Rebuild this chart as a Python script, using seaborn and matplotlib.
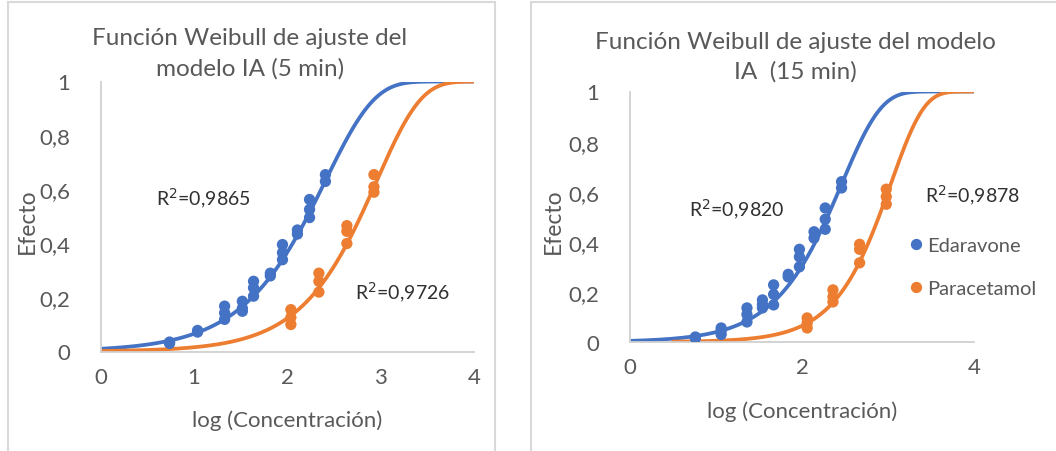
import numpy as np
import pandas as pd
import matplotlib
matplotlib.use("Agg")
import matplotlib.pyplot as plt
from matplotlib.patches import Rectangle
import seaborn as sns

# ---- values ----
# 5 min panel
eda_5_x = [0.74, 0.74, 1.04, 1.04, 1.33, 1.33, 1.33, 1.52, 1.52, 1.52, 1.64, 1.64, 1.64,
           1.82, 1.82, 1.95, 1.95, 1.95, 2.11, 2.11, 2.24, 2.24, 2.24, 2.41, 2.41]
eda_5_y = [0.030, 0.035, 0.072, 0.078, 0.168, 0.143, 0.119, 0.186, 0.160, 0.149, 0.260, 0.236, 0.205,
           0.280, 0.290, 0.396, 0.366, 0.340, 0.450, 0.435, 0.563, 0.526, 0.496, 0.655, 0.630]
par_5_x = [2.04, 2.04, 2.04, 2.34, 2.34, 2.34, 2.64, 2.64, 2.64, 2.93, 2.93, 2.93]
par_5_y = [0.155, 0.126, 0.100, 0.290, 0.260, 0.220, 0.466, 0.445, 0.400, 0.655, 0.610, 0.590]

# 15 min panel
eda_15_x = [0.76, 0.76, 1.06, 1.06, 1.06, 1.36, 1.36, 1.36, 1.54, 1.54, 1.54, 1.67, 1.67, 1.67,
            1.84, 1.84, 1.97, 1.97, 1.97, 2.14, 2.14, 2.27, 2.27, 2.27, 2.46, 2.46]
eda_15_y = [0.015, 0.020, 0.030, 0.045, 0.056, 0.080, 0.110, 0.136, 0.136, 0.150, 0.168, 0.148, 0.190, 0.228,
            0.260, 0.270, 0.300, 0.340, 0.370, 0.415, 0.440, 0.450, 0.490, 0.535, 0.615, 0.640]
par_15_x = [2.06, 2.06, 2.06, 2.36, 2.36, 2.36, 2.67, 2.67, 2.67, 2.98, 2.98, 2.98]
par_15_y = [0.056, 0.075, 0.096, 0.160, 0.180, 0.208, 0.316, 0.370, 0.390, 0.550, 0.580, 0.610]

# Weibull fit (in log concentration): efecto = 1 - exp(-10**(k*(x - x0)))
# (k, x0, first x of the drawn curve)
fit_eda_5 = (0.83, 2.41, 0.0)
fit_par_5 = (0.92, 2.96, 0.0)
fit_eda_15 = (0.953, 2.463, 0.0)
fit_par_15 = (1.137, 3.034, 0.5)

r2_5 = ["R$^2$=0,9865", "R$^2$=0,9726"]
r2_15 = ["R$^2$=0,9820", "R$^2$=0,9878"]

titles = ["Función Weibull de ajuste del\nmodelo IA (5 min)",
          "Función Weibull de ajuste del modelo\nIA  (15 min)"]
compounds = ["Edaravone", "Paracetamol"]
y_ticks = [0, 0.2, 0.4, 0.6, 0.8, 1]
y_ticklabels = ["0", "0,2", "0,4", "0,6", "0,8", "1"]

BLUE = "#4472C4"
ORANGE = "#ED7D31"
TXT = "#595959"
GRID = "#D0D0D0"

sns.set_style("white")
plt.rcParams["font.family"] = ["Lato", "DejaVu Sans"]

W, H = 1056, 452
fig = plt.figure(figsize=(W / 100, H / 100), dpi=100)


def px_axes(x0, x1, y_top, y_bot):
    return fig.add_axes([x0 / W, 1 - y_bot / H, (x1 - x0) / W, (y_bot - y_top) / H])


def weibull_curve(fit):
    k, x0, start = fit
    xs = np.linspace(start, 4, 300)
    return xs, 1 - np.exp(-10 ** (k * (xs - x0)))


def make_df(ex, ey, px_, py_):
    return pd.concat([
        pd.DataFrame({"log_conc": ex, "efecto": ey, "compuesto": compounds[0]}),
        pd.DataFrame({"log_conc": px_, "efecto": py_, "compuesto": compounds[1]}),
    ], ignore_index=True)


def draw_panel(ax, df, fits, xticks):
    for fit, c in zip(fits, [BLUE, ORANGE]):
        cx, cy = weibull_curve(fit)
        sns.lineplot(x=cx, y=cy, color=c, lw=2.7, estimator=None, ax=ax, zorder=2)
    sns.scatterplot(data=df, x="log_conc", y="efecto", hue="compuesto",
                    palette=[BLUE, ORANGE], s=66, edgecolor="none", ax=ax, zorder=3)
    ax.set_xlim(0, 4)
    ax.set_ylim(0, 1)
    ax.set_xticks(xticks)
    ax.set_xticklabels([str(t) for t in xticks])
    ax.set_yticks(y_ticks)
    ax.set_yticklabels(y_ticklabels)
    ax.tick_params(length=0, labelsize=16, colors=TXT, pad=11)
    ax.tick_params(axis="y", pad=22)
    for s in ["top", "right"]:
        ax.spines[s].set_visible(False)
    for s in ["left", "bottom"]:
        ax.spines[s].set_color(GRID)
        ax.spines[s].set_linewidth(1.3)
    ax.set_xlabel("")
    ax.set_ylabel("")
    for sp in ax.spines.values():
        sp.set_clip_on(False)


# panel frames
fig.add_artist(Rectangle((8 / W, -0.2), (495 - 8) / W, 1.2 - 3 / H, transform=fig.transFigure,
                         fill=False, edgecolor="#D9D9D9", lw=1.5))
fig.add_artist(Rectangle((531 / W, -0.2), 0.6, 1.2 - 3 / H, transform=fig.transFigure,
                         fill=False, edgecolor="#D9D9D9", lw=1.5))

# left panel (5 min)
ax1 = px_axes(100.5, 473.8, 82.5, 352.5)
draw_panel(ax1, make_df(eda_5_x, eda_5_y, par_5_x, par_5_y), [fit_eda_5, fit_par_5], [0, 1, 2, 3, 4])
ax1.get_legend().remove()
ax1.text(0.59, 0.57, r2_5[0], fontsize=14, color="#303030", va="center", ha="left")
ax1.text(2.73, 0.222, r2_5[1], fontsize=14, color="#303030", va="center", ha="left")

# right panel (15 min)
ax2 = px_axes(630, 974, 92.5, 343)
draw_panel(ax2, make_df(eda_15_x, eda_15_y, par_15_x, par_15_y), [fit_eda_15, fit_par_15], [0, 2, 4])
ax2.text(0.69, 0.532, r2_15[0], fontsize=14, color="#303030", va="center", ha="left")
ax2.text(3.43, 0.588, r2_15[1], fontsize=14, color="#303030", va="center", ha="left")
handles, labels = ax2.get_legend_handles_labels()
ax2.get_legend().remove()
fig.legend(handles, labels, loc="upper left", bbox_to_anchor=(906 / W, 1 - 238 / H),
           frameon=False, fontsize=14.5, labelcolor=TXT, handletextpad=0.05,
           handlelength=1.0, labelspacing=1.3, borderpad=0, borderaxespad=0)

# titles and axis labels
fig.text(250 / W, 1 - 54 / H, titles[0], ha="center", va="center", fontsize=17.5,
         color=TXT, linespacing=1.5)
fig.text(795 / W, 1 - 57 / H, titles[1], ha="center", va="center", fontsize=17.5,
         color=TXT, linespacing=1.45)
fig.text(287 / W, 1 - 421 / H, "log (Concentración)", ha="center", va="center",
         fontsize=16, color=TXT)
fig.text(802 / W, 1 - 412 / H, "log (Concentración)", ha="center", va="center",
         fontsize=16, color=TXT)
fig.text(27 / W, 1 - 221 / H, "Efecto", ha="center", va="center", rotation=90,
         fontsize=16.5, color=TXT)
fig.text(553 / W, 1 - 221 / H, "Efecto", ha="center", va="center", rotation=90,
         fontsize=16.5, color=TXT)

fig.savefig("out.png", dpi=100)
